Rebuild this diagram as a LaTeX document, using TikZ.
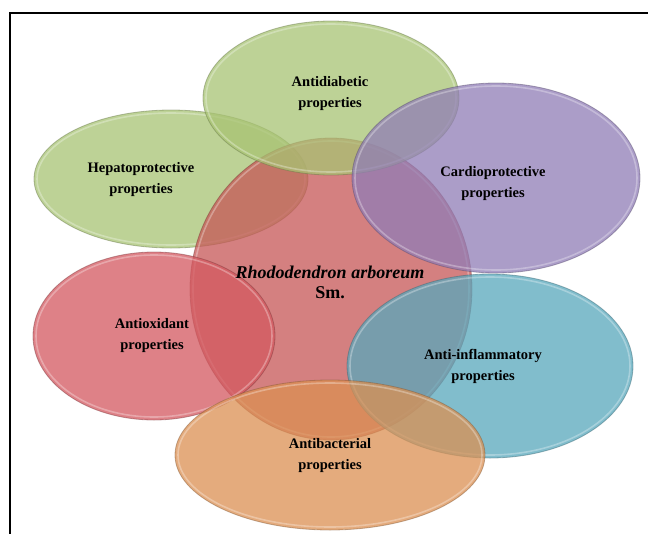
\documentclass[tikz,border=0pt]{standalone}
\usepackage{fontspec}
\setmainfont{Liberation Serif}
\usetikzlibrary{shapes.geometric}

\definecolor{ogreen}{HTML}{A8C373}
\definecolor{opurple}{HTML}{907DB6}
\definecolor{opink}{HTML}{C65656}
\definecolor{ored}{HTML}{D3585F}
\definecolor{oblue}{HTML}{58A8BC}
\definecolor{oorange}{HTML}{DB9052}

% one glossy ellipse: centre, x radius, y radius, colour
\newcommand{\blob}[4]{%
  \fill[#4, fill opacity=0.75] (#1) ellipse [x radius=#2, y radius=#3];
  \draw[white, opacity=0.3, line width=1.6pt] (#1) ellipse [x radius=#2-3, y radius=#3-3];
  \draw[#4!60!black, opacity=0.45, line width=0.8pt] (#1) ellipse [x radius=#2, y radius=#3];
}

\begin{document}
\begin{tikzpicture}[x=1pt, y=-1pt,
    lbl/.style={align=center, font=\fontsize{14.5}{21}\selectfont\bfseries},
    mainlbl/.style={align=center, font=\fontsize{18}{20}\selectfont\bfseries}]
    \clip (0,0) rectangle (648,533);
    \fill[white] (0,0) rectangle (648,533);
    \draw[line width=2pt] (10,13) rectangle (670,560);

    \blob{171,179}{137}{69}{ogreen}
    \blob{331,289}{141}{151}{opink}
    \blob{331,98}{128}{77}{ogreen}
    \blob{496,178}{144}{95}{opurple}
    \blob{154,336}{121}{84}{ored}
    \blob{490,366}{143}{92}{oblue}
    \blob{330,455}{155}{75}{oorange}

    \node[mainlbl] (plant) at (330,282) {\textit{Rhododendron arboreum}\\Sm.};
    \node[lbl] (diab) at (330,94) {Antidiabetic\\properties};
    \node[lbl] (hepa) at (141,180) {Hepatoprotective\\properties};
    \node[lbl] (card) at (493,184) {Cardioprotective\\properties};
    \node[lbl] (oxid) at (152,336) {Antioxidant\\properties};
    \node[lbl] (infl) at (483,366) {Anti-inflammatory\\properties};
    \node[lbl] (bact) at (330,456) {Antibacterial\\properties};
\end{tikzpicture}
\end{document}
